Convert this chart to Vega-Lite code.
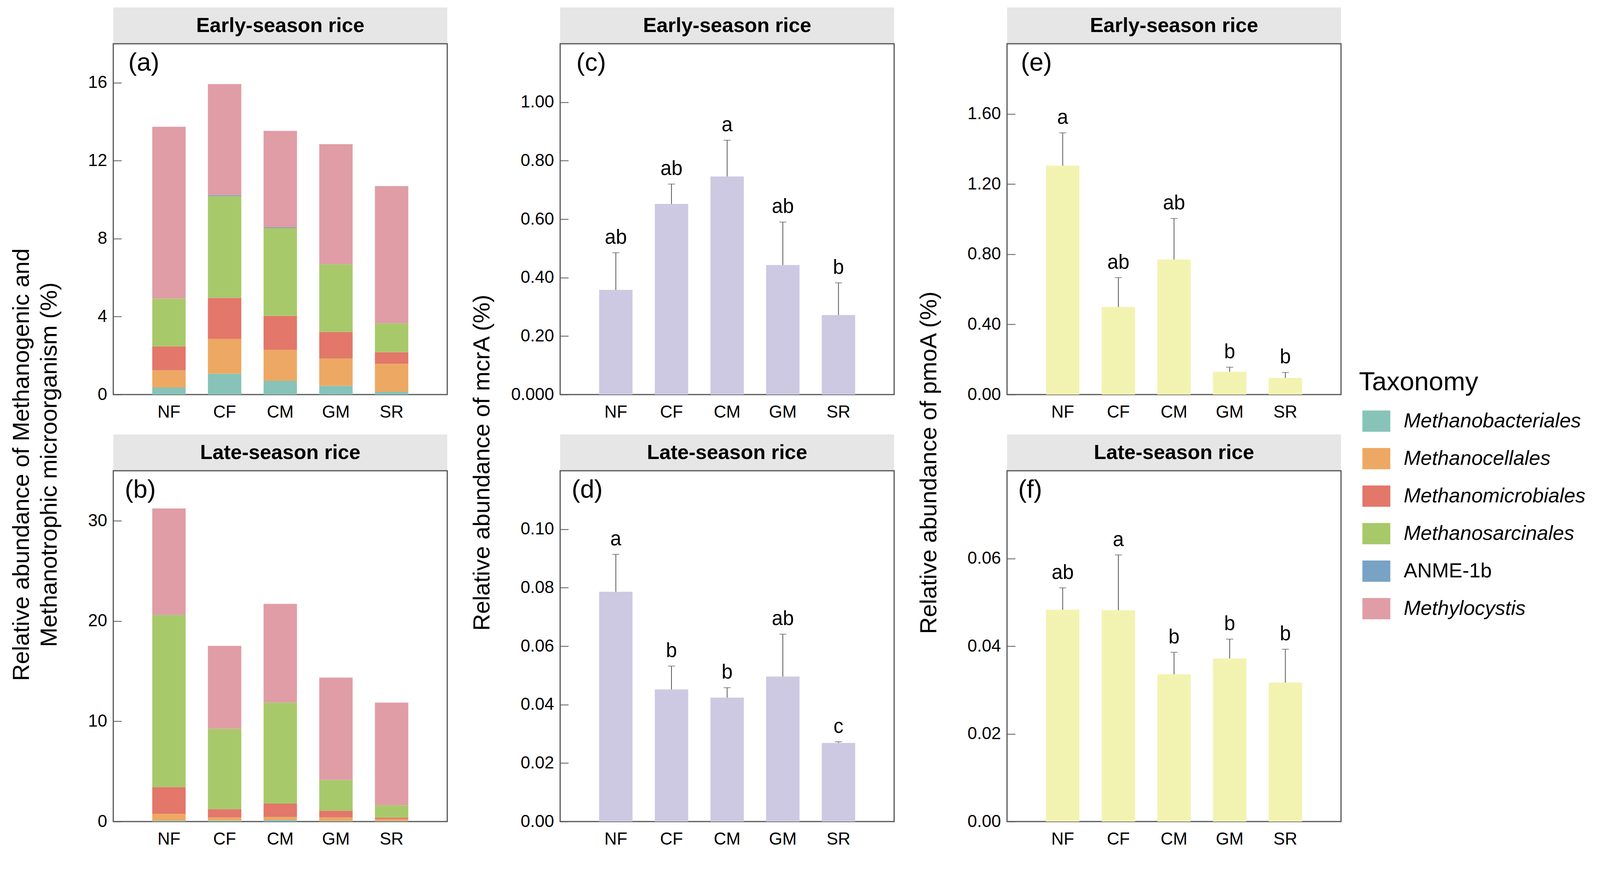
{
  "$schema": "https://vega.github.io/schema/vega-lite/v6.json",
  "background": "white",
  "padding": 0,
  "columns": 4,
  "spacing": {"row": 0, "column": 289},
  "bounds": "flush",
  "align": "each",
  "resolve": {"scale": {"x": "independent", "y": "independent", "color": "shared"}, "legend": {"color": "shared"}},
  "datasets": {
    "early_label": [{"label": "Early-season rice"}],
    "late_label": [{"label": "Late-season rice"}],
    "blank": [{"k": 1}],
    "tax_early": [
      {"trt": "NF", "taxon": "Methanobacteriales", "ord": 1, "value": 0.36},
      {"trt": "NF", "taxon": "Methanocellales", "ord": 2, "value": 0.89},
      {"trt": "NF", "taxon": "Methanomicrobiales", "ord": 3, "value": 1.22},
      {"trt": "NF", "taxon": "Methanosarcinales", "ord": 4, "value": 2.45},
      {"trt": "NF", "taxon": "ANME-1b", "ord": 5, "value": 0.0},
      {"trt": "NF", "taxon": "Methylocystis", "ord": 6, "value": 8.82},
      {"trt": "CF", "taxon": "Methanobacteriales", "ord": 1, "value": 1.07},
      {"trt": "CF", "taxon": "Methanocellales", "ord": 2, "value": 1.78},
      {"trt": "CF", "taxon": "Methanomicrobiales", "ord": 3, "value": 2.11},
      {"trt": "CF", "taxon": "Methanosarcinales", "ord": 4, "value": 5.22},
      {"trt": "CF", "taxon": "ANME-1b", "ord": 5, "value": 0.05},
      {"trt": "CF", "taxon": "Methylocystis", "ord": 6, "value": 5.70},
      {"trt": "CM", "taxon": "Methanobacteriales", "ord": 1, "value": 0.70},
      {"trt": "CM", "taxon": "Methanocellales", "ord": 2, "value": 1.59},
      {"trt": "CM", "taxon": "Methanomicrobiales", "ord": 3, "value": 1.75},
      {"trt": "CM", "taxon": "Methanosarcinales", "ord": 4, "value": 4.50},
      {"trt": "CM", "taxon": "ANME-1b", "ord": 5, "value": 0.04},
      {"trt": "CM", "taxon": "Methylocystis", "ord": 6, "value": 4.95},
      {"trt": "GM", "taxon": "Methanobacteriales", "ord": 1, "value": 0.45},
      {"trt": "GM", "taxon": "Methanocellales", "ord": 2, "value": 1.40},
      {"trt": "GM", "taxon": "Methanomicrobiales", "ord": 3, "value": 1.36},
      {"trt": "GM", "taxon": "Methanosarcinales", "ord": 4, "value": 3.47},
      {"trt": "GM", "taxon": "ANME-1b", "ord": 5, "value": 0.01},
      {"trt": "GM", "taxon": "Methylocystis", "ord": 6, "value": 6.16},
      {"trt": "SR", "taxon": "Methanobacteriales", "ord": 1, "value": 0.14},
      {"trt": "SR", "taxon": "Methanocellales", "ord": 2, "value": 1.44},
      {"trt": "SR", "taxon": "Methanomicrobiales", "ord": 3, "value": 0.59},
      {"trt": "SR", "taxon": "Methanosarcinales", "ord": 4, "value": 1.48},
      {"trt": "SR", "taxon": "ANME-1b", "ord": 5, "value": 0.01},
      {"trt": "SR", "taxon": "Methylocystis", "ord": 6, "value": 7.04}
    ],
    "tax_late": [
      {"trt": "NF", "taxon": "Methanobacteriales", "ord": 1, "value": 0.08},
      {"trt": "NF", "taxon": "Methanocellales", "ord": 2, "value": 0.70},
      {"trt": "NF", "taxon": "Methanomicrobiales", "ord": 3, "value": 2.66},
      {"trt": "NF", "taxon": "Methanosarcinales", "ord": 4, "value": 17.17},
      {"trt": "NF", "taxon": "ANME-1b", "ord": 5, "value": 0.01},
      {"trt": "NF", "taxon": "Methylocystis", "ord": 6, "value": 10.62},
      {"trt": "CF", "taxon": "Methanobacteriales", "ord": 1, "value": 0.10},
      {"trt": "CF", "taxon": "Methanocellales", "ord": 2, "value": 0.31},
      {"trt": "CF", "taxon": "Methanomicrobiales", "ord": 3, "value": 0.83},
      {"trt": "CF", "taxon": "Methanosarcinales", "ord": 4, "value": 8.01},
      {"trt": "CF", "taxon": "ANME-1b", "ord": 5, "value": 0.01},
      {"trt": "CF", "taxon": "Methylocystis", "ord": 6, "value": 8.27},
      {"trt": "CM", "taxon": "Methanobacteriales", "ord": 1, "value": 0.16},
      {"trt": "CM", "taxon": "Methanocellales", "ord": 2, "value": 0.30},
      {"trt": "CM", "taxon": "Methanomicrobiales", "ord": 3, "value": 1.33},
      {"trt": "CM", "taxon": "Methanosarcinales", "ord": 4, "value": 10.08},
      {"trt": "CM", "taxon": "ANME-1b", "ord": 5, "value": 0.01},
      {"trt": "CM", "taxon": "Methylocystis", "ord": 6, "value": 9.84},
      {"trt": "GM", "taxon": "Methanobacteriales", "ord": 1, "value": 0.05},
      {"trt": "GM", "taxon": "Methanocellales", "ord": 2, "value": 0.36},
      {"trt": "GM", "taxon": "Methanomicrobiales", "ord": 3, "value": 0.67},
      {"trt": "GM", "taxon": "Methanosarcinales", "ord": 4, "value": 3.06},
      {"trt": "GM", "taxon": "ANME-1b", "ord": 5, "value": 0.01},
      {"trt": "GM", "taxon": "Methylocystis", "ord": 6, "value": 10.21},
      {"trt": "SR", "taxon": "Methanobacteriales", "ord": 1, "value": 0.05},
      {"trt": "SR", "taxon": "Methanocellales", "ord": 2, "value": 0.19},
      {"trt": "SR", "taxon": "Methanomicrobiales", "ord": 3, "value": 0.17},
      {"trt": "SR", "taxon": "Methanosarcinales", "ord": 4, "value": 1.21},
      {"trt": "SR", "taxon": "ANME-1b", "ord": 5, "value": 0.01},
      {"trt": "SR", "taxon": "Methylocystis", "ord": 6, "value": 10.24}
    ],
    "mcrA_early": [
      {"trt": "NF", "mean": 0.358, "upper": 0.485, "sig": "ab"},
      {"trt": "CF", "mean": 0.652, "upper": 0.720, "sig": "ab"},
      {"trt": "CM", "mean": 0.746, "upper": 0.870, "sig": "a"},
      {"trt": "GM", "mean": 0.443, "upper": 0.590, "sig": "ab"},
      {"trt": "SR", "mean": 0.272, "upper": 0.382, "sig": "b"}
    ],
    "mcrA_late": [
      {"trt": "NF", "mean": 0.0786, "upper": 0.0914, "sig": "a"},
      {"trt": "CF", "mean": 0.0452, "upper": 0.0532, "sig": "b"},
      {"trt": "CM", "mean": 0.0424, "upper": 0.0458, "sig": "b"},
      {"trt": "GM", "mean": 0.0496, "upper": 0.0641, "sig": "ab"},
      {"trt": "SR", "mean": 0.0269, "upper": 0.0273, "sig": "c"}
    ],
    "pmoA_early": [
      {"trt": "NF", "mean": 1.305, "upper": 1.492, "sig": "a"},
      {"trt": "CF", "mean": 0.4995, "upper": 0.667, "sig": "ab"},
      {"trt": "CM", "mean": 0.770, "upper": 1.004, "sig": "ab"},
      {"trt": "GM", "mean": 0.130, "upper": 0.156, "sig": "b"},
      {"trt": "SR", "mean": 0.095, "upper": 0.126, "sig": "b"}
    ],
    "pmoA_late": [
      {"trt": "NF", "mean": 0.0483, "upper": 0.0533, "sig": "ab"},
      {"trt": "CF", "mean": 0.0482, "upper": 0.0608, "sig": "a"},
      {"trt": "CM", "mean": 0.0336, "upper": 0.0386, "sig": "b"},
      {"trt": "GM", "mean": 0.0372, "upper": 0.0416, "sig": "b"},
      {"trt": "SR", "mean": 0.0317, "upper": 0.0393, "sig": "b"}
    ]
  },
  "concat": [
    {"width": 1, "height": 19, "data": {"name": "blank"}, "mark": {"type": "rect", "opacity": 0}, "encoding": {}},
    {"width": 1, "height": 19, "data": {"name": "blank"}, "mark": {"type": "rect", "opacity": 0}, "encoding": {}},
    {"width": 1, "height": 19, "data": {"name": "blank"}, "mark": {"type": "rect", "opacity": 0}, "encoding": {}},
    {"width": 1, "height": 19, "data": {"name": "blank"}, "mark": {"type": "rect", "opacity": 0}, "encoding": {}},

    {"width": 1, "height": 1, "data": {"name": "blank"}, "mark": {"type": "rect", "opacity": 0}, "encoding": {}},
    {"width": 855, "height": 93, "data": {"name": "early_label"}, "layer": [
      {"mark": {"type": "rect", "color": "#E6E6E6"}, "encoding": {}},
      {"mark": {"type": "text", "fontSize": 52, "fontWeight": "bold", "color": "black", "font": "Liberation Sans"}, "encoding": {"text": {"field": "label"}}}
    ]},
    {"width": 855, "height": 93, "data": {"name": "early_label"}, "layer": [
      {"mark": {"type": "rect", "color": "#E6E6E6"}, "encoding": {}},
      {"mark": {"type": "text", "fontSize": 52, "fontWeight": "bold", "color": "black", "font": "Liberation Sans"}, "encoding": {"text": {"field": "label"}}}
    ]},
    {"width": 855, "height": 93, "data": {"name": "early_label"}, "layer": [
      {"mark": {"type": "rect", "color": "#E6E6E6"}, "encoding": {}},
      {"mark": {"type": "text", "fontSize": 52, "fontWeight": "bold", "color": "black", "font": "Liberation Sans"}, "encoding": {"text": {"field": "label"}}}
    ]},

    {"width": 1, "height": 1, "data": {"name": "blank"}, "mark": {"type": "rect", "opacity": 0}, "encoding": {}},
    {"width": 855, "height": 898, "data": {"name": "tax_early"},
     "view": {"stroke": "#555555", "strokeWidth": 3},
     "mark": {"type": "bar"},
     "encoding": {
       "x": {"field": "trt", "type": "nominal", "sort": ["NF", "CF", "CM", "GM", "SR"], "scale": {"paddingInner": 0.4, "paddingOuter": 0.7},
             "axis": {"title": "(a)", "titleX": 38, "titleY": -830}},
       "y": {"field": "value", "type": "quantitative", "stack": "zero", "scale": {"domain": [0, 18], "nice": false},
             "axis": {"values": [0, 4, 8, 12, 16], "title": ["Relative abundance of Methanogenic and", "Methanotrophic microorganism (%)"], "titleX": -217, "titleY": 1077}},
       "color": {"field": "taxon", "type": "nominal", "title": "Taxonomy",
                 "scale": {"domain": ["Methanobacteriales", "Methanocellales", "Methanomicrobiales", "Methanosarcinales", "ANME-1b", "Methylocystis"],
                           "range": ["#87C3B8", "#EDA963", "#E2776A", "#A8C96A", "#78A3C4", "#E09DA5"]},
                 "legend": {"orient": "none", "legendX": 3479, "legendY": 946, "direction": "vertical",
                            "encode": {"labels": {"update": {"fontStyle": {"signal": "datum.label === 'ANME-1b' ? 'normal' : 'italic'"}}}}}},
       "order": {"field": "ord", "type": "quantitative"}
     }},
    {"width": 855, "height": 898, "data": {"name": "mcrA_early"},
     "view": {"stroke": "#555555", "strokeWidth": 3},
     "encoding": {"x": {"field": "trt", "type": "nominal", "sort": ["NF", "CF", "CM", "GM", "SR"], "scale": {"paddingInner": 0.4, "paddingOuter": 0.7},
                        "axis": {"title": "(c)", "titleX": 41, "titleY": -830}}},
     "layer": [
       {"mark": {"type": "bar", "color": "#CDC9E2"},
        "encoding": {"y": {"field": "mean", "type": "quantitative", "title": "Relative abundance of mcrA (%)", "scale": {"domain": [0, 1.2], "nice": false},
                           "axis": {"values": [0, 0.2, 0.4, 0.6, 0.8, 1.0], "labelExpr": "datum.value == 0 ? '0.000' : format(datum.value, '.2f')", "titleX": -182, "titleY": 1072}}}},
       {"mark": {"type": "rule", "color": "#555555", "strokeWidth": 2},
        "encoding": {"y": {"field": "mean", "type": "quantitative", "title": "Relative abundance of mcrA (%)"}, "y2": {"field": "upper"}}},
       {"mark": {"type": "tick", "color": "#555555", "thickness": 2, "size": 18},
        "encoding": {"y": {"field": "upper", "type": "quantitative", "title": "Relative abundance of mcrA (%)"}}},
       {"mark": {"type": "text", "dy": -23, "baseline": "alphabetic", "fontSize": 51, "font": "Liberation Sans", "color": "black"},
        "encoding": {"y": {"field": "upper", "type": "quantitative", "title": "Relative abundance of mcrA (%)"}, "text": {"field": "sig"}}}
     ]},
    {"width": 855, "height": 898, "data": {"name": "pmoA_early"},
     "view": {"stroke": "#555555", "strokeWidth": 3},
     "encoding": {"x": {"field": "trt", "type": "nominal", "sort": ["NF", "CF", "CM", "GM", "SR"], "scale": {"paddingInner": 0.4, "paddingOuter": 0.7},
                        "axis": {"title": "(e)", "titleX": 35, "titleY": -830}}},
     "layer": [
       {"mark": {"type": "bar", "color": "#F3F3B1"},
        "encoding": {"y": {"field": "mean", "type": "quantitative", "title": "Relative abundance of pmoA (%)", "scale": {"domain": [0, 2.0], "nice": false},
                           "axis": {"values": [0, 0.4, 0.8, 1.2, 1.6], "format": ".2f", "titleX": -182, "titleY": 1072}}}},
       {"mark": {"type": "rule", "color": "#555555", "strokeWidth": 2},
        "encoding": {"y": {"field": "mean", "type": "quantitative", "title": "Relative abundance of pmoA (%)"}, "y2": {"field": "upper"}}},
       {"mark": {"type": "tick", "color": "#555555", "thickness": 2, "size": 18},
        "encoding": {"y": {"field": "upper", "type": "quantitative", "title": "Relative abundance of pmoA (%)"}}},
       {"mark": {"type": "text", "dy": -23, "baseline": "alphabetic", "fontSize": 51, "font": "Liberation Sans", "color": "black"},
        "encoding": {"y": {"field": "upper", "type": "quantitative", "title": "Relative abundance of pmoA (%)"}, "text": {"field": "sig"}}}
     ]},

    {"width": 1, "height": 1, "data": {"name": "blank"}, "mark": {"type": "rect", "opacity": 0}, "encoding": {}},
    {"width": 1, "height": 102, "data": {"name": "blank"}, "mark": {"type": "rect", "opacity": 0}, "encoding": {}},
    {"width": 1, "height": 102, "data": {"name": "blank"}, "mark": {"type": "rect", "opacity": 0}, "encoding": {}},
    {"width": 1, "height": 102, "data": {"name": "blank"}, "mark": {"type": "rect", "opacity": 0}, "encoding": {}},

    {"width": 1, "height": 1, "data": {"name": "blank"}, "mark": {"type": "rect", "opacity": 0}, "encoding": {}},
    {"width": 855, "height": 93, "data": {"name": "late_label"}, "layer": [
      {"mark": {"type": "rect", "color": "#E6E6E6"}, "encoding": {}},
      {"mark": {"type": "text", "fontSize": 52, "fontWeight": "bold", "color": "black", "font": "Liberation Sans"}, "encoding": {"text": {"field": "label"}}}
    ]},
    {"width": 855, "height": 93, "data": {"name": "late_label"}, "layer": [
      {"mark": {"type": "rect", "color": "#E6E6E6"}, "encoding": {}},
      {"mark": {"type": "text", "fontSize": 52, "fontWeight": "bold", "color": "black", "font": "Liberation Sans"}, "encoding": {"text": {"field": "label"}}}
    ]},
    {"width": 855, "height": 93, "data": {"name": "late_label"}, "layer": [
      {"mark": {"type": "rect", "color": "#E6E6E6"}, "encoding": {}},
      {"mark": {"type": "text", "fontSize": 52, "fontWeight": "bold", "color": "black", "font": "Liberation Sans"}, "encoding": {"text": {"field": "label"}}}
    ]},

    {"width": 1, "height": 1, "data": {"name": "blank"}, "mark": {"type": "rect", "opacity": 0}, "encoding": {}},
    {"width": 855, "height": 898, "data": {"name": "tax_late"},
     "view": {"stroke": "#555555", "strokeWidth": 3},
     "mark": {"type": "bar"},
     "encoding": {
       "x": {"field": "trt", "type": "nominal", "sort": ["NF", "CF", "CM", "GM", "SR"], "scale": {"paddingInner": 0.4, "paddingOuter": 0.7},
             "axis": {"title": "(b)", "titleX": 29, "titleY": -830}},
       "y": {"field": "value", "type": "quantitative", "stack": "zero", "scale": {"domain": [0, 35], "nice": false},
             "axis": {"values": [0, 10, 20, 30], "title": null}},
       "color": {"field": "taxon", "type": "nominal", "title": "Taxonomy",
                 "scale": {"domain": ["Methanobacteriales", "Methanocellales", "Methanomicrobiales", "Methanosarcinales", "ANME-1b", "Methylocystis"],
                           "range": ["#87C3B8", "#EDA963", "#E2776A", "#A8C96A", "#78A3C4", "#E09DA5"]},
                 "legend": {"orient": "none", "legendX": 3479, "legendY": 946, "direction": "vertical",
                            "encode": {"labels": {"update": {"fontStyle": {"signal": "datum.label === 'ANME-1b' ? 'normal' : 'italic'"}}}}}},
       "order": {"field": "ord", "type": "quantitative"}
     }},
    {"width": 855, "height": 898, "data": {"name": "mcrA_late"},
     "view": {"stroke": "#555555", "strokeWidth": 3},
     "encoding": {"x": {"field": "trt", "type": "nominal", "sort": ["NF", "CF", "CM", "GM", "SR"], "scale": {"paddingInner": 0.4, "paddingOuter": 0.7},
                        "axis": {"title": "(d)", "titleX": 29, "titleY": -830}}},
     "layer": [
       {"mark": {"type": "bar", "color": "#CDC9E2"},
        "encoding": {"y": {"field": "mean", "type": "quantitative", "title": null, "scale": {"domain": [0, 0.12], "nice": false},
                           "axis": {"values": [0, 0.02, 0.04, 0.06, 0.08, 0.10], "format": ".2f"}}}},
       {"mark": {"type": "rule", "color": "#555555", "strokeWidth": 2},
        "encoding": {"y": {"field": "mean", "type": "quantitative", "title": null}, "y2": {"field": "upper"}}},
       {"mark": {"type": "tick", "color": "#555555", "thickness": 2, "size": 18},
        "encoding": {"y": {"field": "upper", "type": "quantitative", "title": null}}},
       {"mark": {"type": "text", "dy": -23, "baseline": "alphabetic", "fontSize": 51, "font": "Liberation Sans", "color": "black"},
        "encoding": {"y": {"field": "upper", "type": "quantitative", "title": null}, "text": {"field": "sig"}}}
     ]},
    {"width": 855, "height": 898, "data": {"name": "pmoA_late"},
     "view": {"stroke": "#555555", "strokeWidth": 3},
     "encoding": {"x": {"field": "trt", "type": "nominal", "sort": ["NF", "CF", "CM", "GM", "SR"], "scale": {"paddingInner": 0.4, "paddingOuter": 0.7},
                        "axis": {"title": "(f)", "titleX": 28, "titleY": -830}}},
     "layer": [
       {"mark": {"type": "bar", "color": "#F3F3B1"},
        "encoding": {"y": {"field": "mean", "type": "quantitative", "title": null, "scale": {"domain": [0, 0.08], "nice": false},
                           "axis": {"values": [0, 0.02, 0.04, 0.06], "format": ".2f"}}}},
       {"mark": {"type": "rule", "color": "#555555", "strokeWidth": 2},
        "encoding": {"y": {"field": "mean", "type": "quantitative", "title": null}, "y2": {"field": "upper"}}},
       {"mark": {"type": "tick", "color": "#555555", "thickness": 2, "size": 18},
        "encoding": {"y": {"field": "upper", "type": "quantitative", "title": null}}},
       {"mark": {"type": "text", "dy": -23, "baseline": "alphabetic", "fontSize": 51, "font": "Liberation Sans", "color": "black"},
        "encoding": {"y": {"field": "upper", "type": "quantitative", "title": null}, "text": {"field": "sig"}}}
     ]},

    {"width": 1, "height": 82, "data": {"name": "blank"}, "mark": {"type": "rect", "opacity": 0}, "encoding": {}},
    {"width": 1, "height": 82, "data": {"name": "blank"}, "mark": {"type": "rect", "opacity": 0}, "encoding": {}},
    {"width": 1, "height": 82, "data": {"name": "blank"}, "mark": {"type": "rect", "opacity": 0}, "encoding": {}},
    {"width": 1, "height": 82, "data": {"name": "blank"}, "mark": {"type": "rect", "opacity": 0}, "encoding": {}}
  ],
  "config": {
    "font": "Liberation Sans",
    "view": {"stroke": null},
    "axis": {"labelFont": "Liberation Sans", "labelFontSize": 44, "labelColor": "black", "titleFont": "Liberation Sans", "titleFontSize": 60, "titleFontWeight": "normal", "titleColor": "black", "domain": false, "grid": false, "tickColor": "#555555", "tickWidth": 2},
    "axisY": {"tickSize": -21, "labelPadding": 37, "labelOverlap": false, "titleBaseline": "alphabetic", "titleLineHeight": 71.5},
    "axisX": {"ticks": false, "labelPadding": 23, "labelAngle": 0, "titleFontSize": 65, "titleAngle": 0, "titleAlign": "left", "titleBaseline": "alphabetic"},
    "legend": {"titleFont": "Liberation Sans", "titleFontSize": 67, "titleFontWeight": "normal", "titleColor": "black", "titlePadding": 29, "titleLimit": 1000,
               "labelFont": "Liberation Sans", "labelFontSize": 52, "labelColor": "black", "labelOffset": 34, "labelLimit": 1000,
               "symbolType": "M-1,-0.76L1,-0.76L1,0.76L-1,0.76Z", "symbolSize": 5112, "symbolStrokeWidth": 0, "symbolOpacity": 1, "symbolOffset": 8.5,
               "rowPadding": 32}
  }
}
